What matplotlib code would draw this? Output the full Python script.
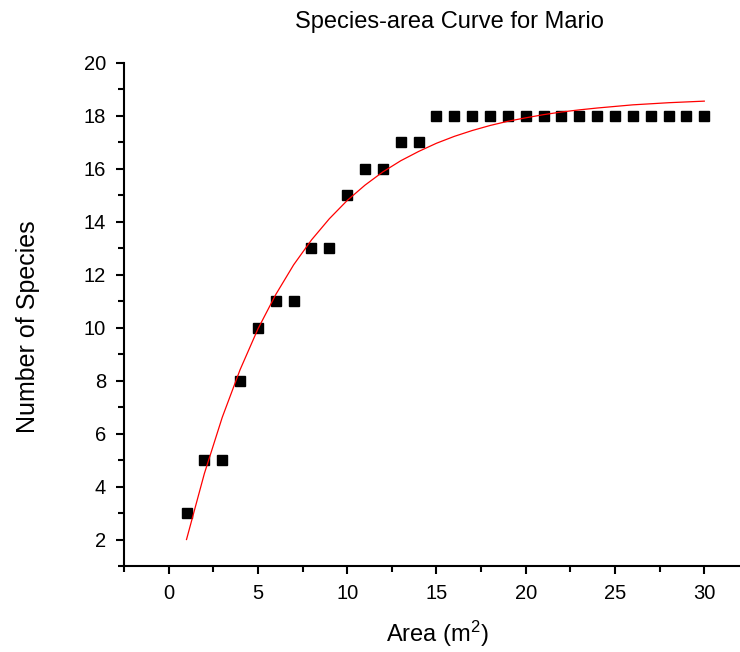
import numpy as np
import matplotlib
matplotlib.use('Agg')
import matplotlib.pyplot as plt
from matplotlib.ticker import MultipleLocator

plt.rcParams['font.family'] = ['Liberation Sans', 'DejaVu Sans']
plt.rcParams['mathtext.default'] = 'regular'

# observed species counts per sampled area
area = list(range(1, 31))
species = [3, 5, 5, 8, 10, 11, 11, 13, 13, 15, 16, 16, 17, 17,
           18, 18, 18, 18, 18, 18, 18, 18, 18, 18, 18, 18, 18, 18, 18, 18]

# fitted curve, read at each integer area
fit_area = list(range(1, 31))
fit_species = [2.00, 4.49, 6.61, 8.41, 9.95, 11.25, 12.37, 13.31, 14.11, 14.80,
               15.38, 15.88, 16.30, 16.65, 16.96, 17.22, 17.44, 17.63, 17.79, 17.92,
               18.04, 18.14, 18.22, 18.29, 18.35, 18.41, 18.45, 18.49, 18.52, 18.55]

fig = plt.figure(figsize=(7.4, 6.52), dpi=100)
ax = fig.add_axes([0.1676, 0.1319, 0.8324, 0.7719])

ax.plot(area, species, 's', color='black', markersize=7, zorder=3)
ax.plot(fit_area, fit_species, '-', color='red', linewidth=0.9, zorder=4)

ax.set_xlim(-2.5, 32)
ax.set_ylim(1, 20)
ax.xaxis.set_major_locator(MultipleLocator(5))
ax.xaxis.set_minor_locator(MultipleLocator(2.5))
ax.yaxis.set_major_locator(MultipleLocator(2))
ax.yaxis.set_minor_locator(MultipleLocator(1))

for side in ['top', 'right']:
    ax.spines[side].set_visible(False)
for side in ['left', 'bottom']:
    ax.spines[side].set_linewidth(1.5)

ax.tick_params(which='major', direction='out', length=6, width=1.5, labelsize=14.5, pad=7)
ax.tick_params(which='minor', direction='out', length=4, width=1.5)

ax.set_title('Species-area Curve for Mario', fontsize=17, pad=25, x=0.529)
ax.set_xlabel('Area (m$^2$)', fontsize=17, labelpad=11)
ax.xaxis.label.set_x(0.508)
ax.set_ylabel('Number of Species', fontsize=18)
ax.yaxis.set_label_coords(-0.137, 0.475)

fig.savefig('out.png', dpi=100)
